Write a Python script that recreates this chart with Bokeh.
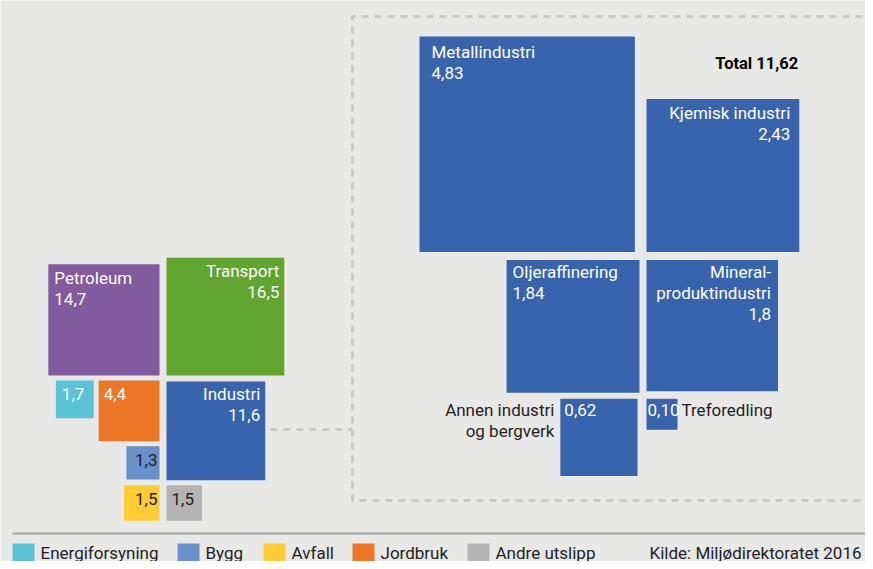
import math
from bokeh.plotting import figure
from bokeh.models import Range1d, ColumnDataSource
from bokeh.embed import file_html
from bokeh.resources import INLINE
from bokeh.core.properties import value

# ---------------- data ----------------
sectors = ["Petroleum", "Transport", "Industri", "Energiforsyning", "Jordbruk",
           "Bygg", "Avfall", "Andre utslipp"]
sector_values = [14.7, 16.5, 11.6, 1.7, 4.4, 1.3, 1.5, 1.5]
sector_labels = ["14,7", "16,5", "11,6", "1,7", "4,4", "1,3", "1,5", "1,5"]

industries = ["Metallindustri", "Kjemisk industri", "Oljeraffinering",
              "Mineralproduktindustri", "Annen industri og bergverk", "Treforedling"]
industry_values = [4.83, 2.43, 1.84, 1.8, 0.62, 0.10]
industry_labels = ["4,83", "2,43", "1,84", "1,8", "0,62", "0,10"]
industry_total_label = "Total 11,62"

legend_names = ["Energiforsyning", "Bygg", "Avfall", "Jordbruk", "Andre utslipp"]
source_text = "Kilde: Miljødirektoratet 2016"

# ---------------- style ----------------
BG = "#e8e8e6"
COL = {"Petroleum": "#845a9f", "Transport": "#5fa52f", "Industri": "#3864ad",
       "Energiforsyning": "#5bc3d6", "Jordbruk": "#ee7727", "Bygg": "#6a90cc",
       "Avfall": "#ffcc33", "Andre utslipp": "#b4b4b4"}
IND_COL = "#3864ad"
FONT = "Roboto"
FS = "17px"
DARK = "#1e1e1e"

W, H = 865, 561
p = figure(width=W, height=H, output_backend="svg", toolbar_location=None,
           x_range=Range1d(0, W), y_range=Range1d(H, 0),
           background_fill_color=BG, border_fill_color=BG,
           min_border=0, outline_line_color=None)
p.axis.visible = False
p.grid.visible = False

K_LEFT = 29.0   # px per sqrt(unit)
K_RIGHT = 98.0


def box(anchor_x, anchor_y, hx, vy, side):
    left = anchor_x if hx == "L" else anchor_x - side
    top = anchor_y if vy == "T" else anchor_y - side
    return dict(left=left, right=left + side, top=top, bottom=top + side)


# ---- left cluster layout ----
ls = {n: K_LEFT * math.sqrt(v) for n, v in zip(sectors, sector_values)}
GX_L, GX_R = 159, 166   # column gap
ROW = 375
B = {}
B["Petroleum"] = box(GX_L, ROW, "R", "B", ls["Petroleum"])
B["Transport"] = box(GX_R, ROW, "L", "B", ls["Transport"])
B["Industri"] = box(GX_R, ROW + 6, "L", "T", ls["Industri"])
B["Jordbruk"] = box(GX_L, ROW + 5, "R", "T", ls["Jordbruk"])
B["Energiforsyning"] = box(B["Jordbruk"]["left"] - 5, ROW + 5, "R", "T", ls["Energiforsyning"])
B["Bygg"] = box(GX_L, B["Jordbruk"]["bottom"] + 5, "R", "T", ls["Bygg"])
B["Avfall"] = box(GX_L, B["Industri"]["bottom"] + 5, "R", "T", ls["Avfall"])
B["Andre utslipp"] = box(GX_R, B["Industri"]["bottom"] + 5, "L", "T", ls["Andre utslipp"])

# ---- right cluster layout ----
rs = {n: K_RIGHT * math.sqrt(v) for n, v in zip(industries, industry_values)}
RX_L, RX_R = 639, 646
R = {}
R["Metallindustri"] = box(419, 36, "L", "T", rs["Metallindustri"])
mb = R["Metallindustri"]["bottom"]
R["Kjemisk industri"] = box(RX_R, mb, "L", "B", rs["Kjemisk industri"])
R["Oljeraffinering"] = box(RX_L, mb + 8, "R", "T", rs["Oljeraffinering"])
R["Mineralproduktindustri"] = box(RX_R, mb + 8, "L", "T", rs["Mineralproduktindustri"])
ob = R["Oljeraffinering"]["bottom"]
R["Annen industri og bergverk"] = box(RX_L - 2, ob + 6, "R", "T", rs["Annen industri og bergverk"])
R["Treforedling"] = box(RX_R, ob + 6, "L", "T", rs["Treforedling"])

# ---- dashed frame & connector ----
DASH = dict(line_color="#c8c8c8", line_width=3, line_dash="7 6")
FX, FT, FB = 352, 16, 500
p.line([W + 10, FX, FX, W + 10], [FT, FT, FB, FB], **DASH)
ind = B["Industri"]
cy = 429
p.line([ind["right"] + 5, FX], [cy, cy], **DASH)

# ---- squares ----
src = ColumnDataSource(dict(
    left=[B[n]["left"] for n in sectors] + [R[n]["left"] for n in industries],
    right=[B[n]["right"] for n in sectors] + [R[n]["right"] for n in industries],
    top=[B[n]["top"] for n in sectors] + [R[n]["top"] for n in industries],
    bottom=[B[n]["bottom"] for n in sectors] + [R[n]["bottom"] for n in industries],
    color=[COL[n] for n in sectors] + [IND_COL] * len(industries)))
p.quad(left="left", right="right", top="top", bottom="bottom", source=src,
       fill_color="color", line_color=None)


def txt(x, y, s, align="left", color="white", size=FS, style="normal"):
    p.text(x=[x], y=[y], text=[s], text_align=align, text_baseline="middle",
           text_color=color, text_font=value(FONT), text_font_size=size,
           text_font_style=style)


LH = 21
sl = dict(zip(sectors, sector_labels))
il = dict(zip(industries, industry_labels))

# left cluster labels
b = B["Petroleum"]; txt(b["left"] + 6, b["top"] + 14, "Petroleum"); txt(b["left"] + 6, b["top"] + 14 + LH, sl["Petroleum"])
b = B["Transport"]; txt(b["right"] - 5, b["top"] + 13, "Transport", "right"); txt(b["right"] - 5, b["top"] + 13 + LH, sl["Transport"], "right")
b = B["Industri"]; txt(b["right"] - 5, b["top"] + 12, "Industri", "right"); txt(b["right"] - 5, b["top"] + 12 + LH, sl["Industri"], "right")
b = B["Energiforsyning"]; txt(b["left"] + 6, b["top"] + 13, sl["Energiforsyning"])
b = B["Jordbruk"]; txt(b["left"] + 5, b["top"] + 13, sl["Jordbruk"])
b = B["Bygg"]; txt(b["right"] - 2, b["top"] + 14, sl["Bygg"], "right", DARK)
b = B["Avfall"]; txt(b["right"] - 2, b["top"] + 14, sl["Avfall"], "right", DARK)
b = B["Andre utslipp"]; txt(b["left"] + 5, b["top"] + 14, sl["Andre utslipp"], "left", DARK)

# right cluster labels
b = R["Metallindustri"]; txt(b["left"] + 12, b["top"] + 15, "Metallindustri"); txt(b["left"] + 12, b["top"] + 15 + LH, il["Metallindustri"])
b = R["Kjemisk industri"]; txt(b["right"] - 9, b["top"] + 14, "Kjemisk industri", "right"); txt(b["right"] - 9, b["top"] + 14 + LH, il["Kjemisk industri"], "right")
b = R["Oljeraffinering"]; txt(b["left"] + 6, b["top"] + 12, "Oljeraffinering"); txt(b["left"] + 6, b["top"] + 12 + LH, il["Oljeraffinering"])
b = R["Mineralproduktindustri"]
for i, s in enumerate(["Mineral-", "produktindustri", il["Mineralproduktindustri"]]):
    txt(b["right"] - 7, b["top"] + 12 + i * LH, s, "right")
b = R["Annen industri og bergverk"]
txt(b["left"] + 4, b["top"] + 11, il["Annen industri og bergverk"])
txt(b["left"] - 6, b["top"] + 11, "Annen industri", "right", DARK)
txt(b["left"] - 6, b["top"] + 11 + LH, "og bergverk", "right", DARK)
b = R["Treforedling"]
txt(b["left"] + 1, b["top"] + 11, il["Treforedling"])
txt(b["right"] + 4, b["top"] + 11, "Treforedling", "left", DARK)
txt(R["Kjemisk industri"]["right"] - 1, 63, industry_total_label, "right", "#000000", "16.5px", "bold")

# ---- legend ----
p.line([12, W + 10], [533, 533], line_color="#a5a5a5", line_width=2)
leg_x = [12, 177, 263, 352, 467]
p.quad(left=leg_x, right=[x + 22 for x in leg_x], top=[543] * 5, bottom=[H + 5] * 5,
       fill_color=[COL[n] for n in legend_names], line_color=None)
p.text(x=[x + 28 for x in leg_x], y=[552] * 5, text=legend_names, text_align="left",
       text_baseline="middle", text_color=DARK, text_font=value(FONT), text_font_size=FS)
txt(W - 4, 552, source_text, "right", DARK)

open("out.html", "w").write(file_html(p, INLINE))
